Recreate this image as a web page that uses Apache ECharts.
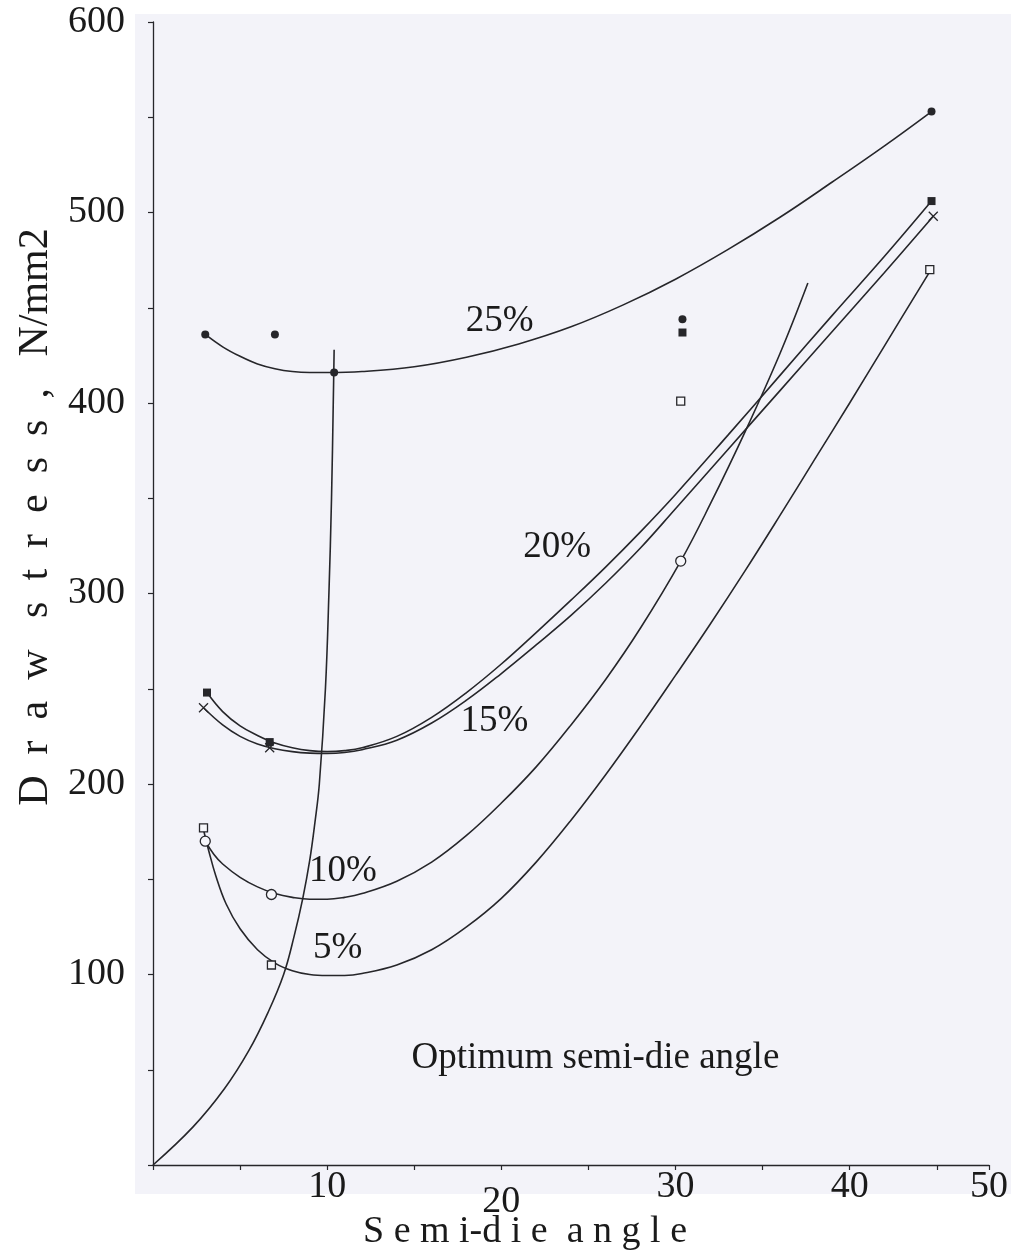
<!DOCTYPE html>
<html><head><meta charset="utf-8">
<script src="https://cdn.jsdelivr.net/npm/echarts@6/dist/echarts.min.js"></script>
<style>html,body{margin:0;padding:0;background:#fff;overflow:hidden}#c{width:1011px;height:1256px}</style>
</head><body><div id="c"></div>
<script>
// ---- data ----
const xTickLabels = ['10', '20', '30', '40', '50'];
const yTickLabels = ['100', '200', '300', '400', '500', '600'];
const curveNames = ['25%', '20%', '15%', '10%', '5%'];

// drawn (hand-smoothed) curves: [semi-die angle, draw stress]
const curve25 = [[3,436],[4,429.5],[5,424.5],[6,420.5],[7,418],[8,416.5],[9,416],[10,416],[12,416.5],[15,419],[18,424],[21,431],[24,440],[27,451.5],[30,465],[33,480.5],[36,497.5],[39,516],[42,535],[44.7,553]];
const curve20 = [[3.1,248],[4,238],[5,230.5],[6,225.5],[7,221.5],[8,219],[9,217.5],[10,217],[11,217.5],[12,219],[14,225],[16,235],[18,248],[20,263],[22,279.5],[24,296.5],[26,314],[28,332.5],[30,352],[33,383],[36,414.5],[39,446],[42,477],[44.7,506]];
const curve15 = [[2.9,240],[4,231],[5,225],[6,221],[7,218.5],[8,217],[9,216.2],[10,216],[11,216.5],[12,218],[14,223],[16,232],[18,244],[20,258],[22,273],[24,288.5],[26,305.5],[28,324],[30,344.5],[33,375.5],[36,406.5],[39,437.5],[42,468.5],[44.8,498]];
const curve10 = [[3,170],[3.5,163],[4,158],[5,151],[6,146],[7,142.5],[8,140.5],[9,139.5],[10,139.5],[11,140.5],[12,142.5],[14,149],[16,159],[18,173],[20,190],[22,209],[24,231],[26,255],[28,282],[30.3,317],[32,347],[34,385],[36,426],[37.6,463]];
const curve5  = [[2.9,176],[3.2,165],[3.6,152],[4.2,137],[5,124],[6,113],[7,106],[8,102],[9,100],[10,99.5],[11,99.5],[12,100.5],[14,105],[16,113],[18,125],[20,140],[22,159],[24,181],[26,205],[28,230.5],[30,257],[32,284],[34,312],[36,341],[38,370.5],[40,400],[42,430],[44.6,469]];
const optimumLine = [[0,0],[2.3,20],[4.1,40],[5.5,60],[6.6,80],[7.5,100],[8.1,120],[8.6,140],[9,160],[9.3,180],[9.55,200],[9.9,250],[10.1,300],[10.25,350],[10.35,400],[10.4,428]];

// measured points (markers)
const marks25 = [[3,436],[7,436],[10.4,416],[30.4,444],[44.7,553]];
const marks20 = [[3.1,248],[6.7,222],[30.4,437],[44.7,506]];
const marks15 = [[2.9,240],[6.7,219],[44.8,498]];
const marks10 = [[3,170],[6.8,142],[30.3,317]];
const marks5  = [[2.9,177],[6.8,105],[30.3,401],[44.6,470]];

// in-plot annotations (text, data position)
const annoTexts = ['25%', '20%', '15%', '10%', '5%', 'Optimum semi-die angle'];
const annoPos = [[19.9,443],[23.2,324],[19.6,233],[10.9,154],[10.6,114],[25.4,56]];

const X_MAX = 48;
const FONT = "'Liberation Serif','Times New Roman',serif";
const INK = '#26262a';
const TEXT = '#1a1a1a';

const chart = echarts.init(document.getElementById('c'), null, {renderer: 'canvas'});

function lineSeries(name, data, extra) {
  return Object.assign({
    name, type: 'line', data, smooth: 0.4, symbol: 'none', silent: true,
    lineStyle: {color: INK, width: 1.6}, z: 3
  }, extra || {});
}
function markSeries(name, data, symbol, size, filled) {
  return {
    name: name + ' points', type: 'scatter', data, symbol, symbolSize: size, silent: true, z: 4,
    itemStyle: filled ? {color: INK, opacity: 1} : {color: '#f7f7fb', borderColor: INK, borderWidth: 1.3, opacity: 1}
  };
}
const crossPath = 'path://M0,0L10,10M10,0L0,10';

const option = {
  backgroundColor: '#ffffff',
  animation: false,
  grid: {left: 153, right: 17, top: 22, bottom: 91, containLabel: false},
  xAxis: {
    type: 'value', min: 0, max: X_MAX, interval: 5,
    axisLine: {lineStyle: {color: INK, width: 1.3}},
    axisTick: {show: true, length: 5, lineStyle: {color: INK, width: 1.2}},
    splitLine: {show: false},
    axisLabel: {
      margin: 3, color: TEXT, fontFamily: FONT, fontSize: 38,
      formatter: v => {
        if (v === X_MAX) return xTickLabels[4];
        if (v > 0 && v % 10 === 0) {
          const t = xTickLabels[v / 10 - 1];
          return v === 20 ? '{low|' + t + '}' : t;
        }
        return '';
      },
      rich: {low: {fontFamily: FONT, fontSize: 38, color: TEXT, padding: [15, 0, 0, 0]}}
    }
  },
  yAxis: {
    type: 'value', min: 0, max: 600, interval: 50,
    axisLine: {show: true, lineStyle: {color: INK, width: 1.3}},
    axisTick: {show: true, length: 5, lineStyle: {color: INK, width: 1.2}},
    splitLine: {show: false},
    axisLabel: {
      margin: 28, color: TEXT, fontFamily: FONT, fontSize: 38,
      formatter: v => (v > 0 && v % 100 === 0) ? yTickLabels[v / 100 - 1] : ''
    }
  },
  graphic: [
    {type: 'rect', z: -100, silent: true, shape: {x: 135, y: 14, width: 876, height: 1180}, style: {fill: '#f3f3f9'}},
    {type: 'text', x: 36, y: 517, rotation: Math.PI / 2, silent: true,
      style: {text: 'D  r  a  w   s  t  r  e  s  s  ,   N/mm2', font: '42px ' + FONT, fill: TEXT, textAlign: 'center', textVerticalAlign: 'middle'}},
    {type: 'text', x: 525, y: 1232, silent: true,
      style: {text: 'S e m i-d i e  a n g l e', font: '38px ' + FONT, fill: TEXT, textAlign: 'center', textVerticalAlign: 'middle'}}
  ],
  series: [
    lineSeries(curveNames[0], curve25),
    lineSeries(curveNames[1], curve20),
    lineSeries(curveNames[2], curve15),
    lineSeries(curveNames[3], curve10),
    lineSeries(curveNames[4], curve5),
    lineSeries('Optimum semi-die angle', optimumLine),
    markSeries(curveNames[0], marks25, 'circle', 8, true),
    markSeries(curveNames[1], marks20, 'rect', 8, true),
    markSeries(curveNames[2], marks15, crossPath, 9, false),
    markSeries(curveNames[3], marks10, 'circle', 10, false),
    markSeries(curveNames[4], marks5, 'rect', 8, false),
    {
      name: 'annotations', type: 'scatter', symbolSize: 0, silent: true, z: 5,
      itemStyle: {opacity: 1},
      data: annoPos.map((p, i) => ({value: p, name: annoTexts[i]})),
      label: {show: true, position: 'inside', formatter: p => p.name, color: TEXT, opacity: 1, textBorderWidth: 0, fontFamily: FONT, fontSize: 37}
    }
  ]
};
chart.setOption(option);
</script></body></html>
